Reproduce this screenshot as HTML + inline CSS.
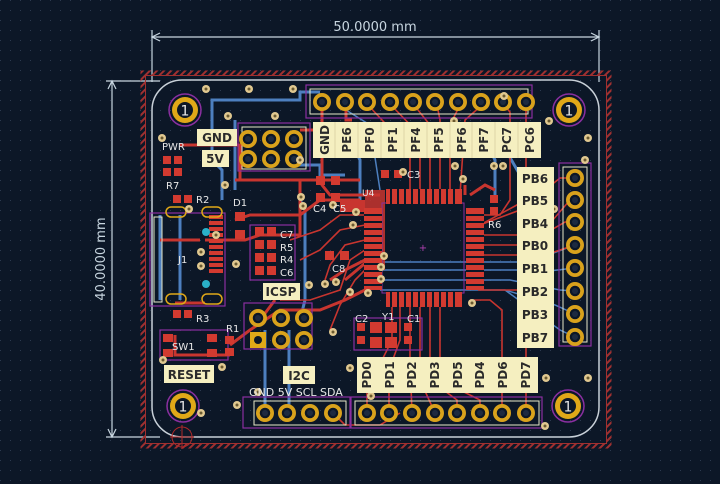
<!DOCTYPE html>
<html><head><meta charset="utf-8"><style>
html,body{margin:0;padding:0;background:#0c1727;}
svg{display:block}
text{font-family:"DejaVu Sans","Liberation Sans",sans-serif;}
</style></head><body>
<svg width="720" height="484" viewBox="0 0 720 484" xmlns="http://www.w3.org/2000/svg">
<defs>
<pattern id="dots" width="10" height="10" patternUnits="userSpaceOnUse"><rect x="0" y="0" width="1" height="1" fill="#2c3a50"/></pattern>
<pattern id="hatch" width="5" height="5" patternUnits="userSpaceOnUse" patternTransform="rotate(45)"><rect width="2" height="5" fill="#a03030"/></pattern>
<g id="pin"><circle r="9" fill="#d9a21c"/><circle r="6" fill="#0c1727" stroke="#d9a21c" stroke-width="1.5"/><circle r="3" fill="#1d2a40"/></g>
<g id="mh"><circle r="16" fill="none" stroke="#8a2fa0" stroke-width="1.5"/><circle r="13" fill="#e0a818"/><circle r="8" fill="#0c1727"/><text x="0" y="5.5" font-size="14" fill="#e8e8e8" text-anchor="middle">1</text></g>
<g id="via"><circle r="4" fill="#e0c890"/><circle r="1.5" fill="#6a5a30"/></g>
</defs>
<rect width="720" height="484" fill="#0c1727"/>
<rect width="720" height="484" fill="url(#dots)"/>

<g stroke="#c8d6e0" stroke-width="1.2" fill="none">
<line x1="152" y1="30" x2="152" y2="82"/><line x1="599" y1="30" x2="599" y2="82"/>
<line x1="152" y1="37" x2="599" y2="37"/>
<polyline points="160,33 152,37 160,41"/><polyline points="591,33 599,37 591,41"/>
<line x1="106" y1="81" x2="160" y2="81"/><line x1="106" y1="437" x2="160" y2="437"/>
<line x1="112" y1="81" x2="112" y2="437"/>
<polyline points="108,89 112,81 116,89"/><polyline points="108,429 112,437 116,429"/>
</g>
<text x="375" y="31" font-size="13" fill="#c8d6e0" text-anchor="middle">50.0000 mm</text>
<text transform="translate(105,259) rotate(-90)" font-size="13" fill="#c8d6e0" text-anchor="middle">40.0000 mm</text>

<rect x="143" y="73" width="466" height="373" fill="none" stroke="url(#hatch)" stroke-width="5"/>
<rect x="145.5" y="75.5" width="461" height="368" fill="none" stroke="#a03030" stroke-width="1"/>
<rect x="152" y="80" width="447" height="357" rx="30" fill="none" stroke="#c8d0d8" stroke-width="1.5"/>
<circle cx="182" cy="437" r="10" fill="none" stroke="#b02828" stroke-width="1"/>
<line x1="170" y1="437" x2="194" y2="437" stroke="#b02828"/><line x1="182" y1="425" x2="182" y2="449" stroke="#b02828"/>

<g stroke="#4d7fbf" stroke-width="3" fill="none">
<polyline points="212,110 212,100 300,100 300,92 320,92"/>
<polyline points="212,110 212,160 222,170 222,200"/>
<polyline points="160,215 160,300"/>
<polyline points="180,215 180,300"/>
<polyline points="265,330 265,360 265,413"/>
<polyline points="289,330 289,413"/>
<polyline points="440,150 490,150 495,160 495,195"/>
<polyline points="290,165 320,165 320,175 345,175"/>
<polyline points="500,140 520,175"/>
<polyline points="300,200 305,210 305,300 300,320"/>
<polyline points="345,130 360,160 360,200"/>
<polyline points="235,120 235,190"/>
</g>
<g stroke="#4d7fbf" stroke-width="1.5" fill="none">
<polyline points="380,262 520,262 540,258 575,245"/>
<polyline points="380,270 520,270 540,272 575,268"/>
<polyline points="380,280 510,280 560,290 575,291"/>
<polyline points="380,290 505,290 555,305 575,314"/>
<polyline points="505,290 560,330 575,337"/>
<polyline points="346,110 370,125 380,190"/>
</g>

<g stroke="#c8352f" stroke-width="3" fill="none">
<polyline points="322,105 322,185 330,195 380,195"/>
<polyline points="346,105 346,120 352,120"/>
<polyline points="320,140 320,130 300,130"/>
<polyline points="235,180 300,180 300,235 260,235 245,240 205,240"/>
<polyline points="160,240 200,240"/>
<polyline points="180,145 240,145 240,180"/>
<polyline points="300,180 360,180"/>
<polyline points="360,200 320,200 300,215 250,215 235,220"/>
<polyline points="175,303 205,303"/>
<polyline points="175,335 175,355 230,355"/>
<polyline points="230,345 250,330 280,310 320,310 345,300 365,290"/>
<polyline points="275,300 260,320"/>
<polyline points="345,280 375,255"/>
<polyline points="365,260 345,270 330,280"/>
<polyline points="465,185 465,195"/>
<polyline points="470,195 485,185 495,190"/>
</g>
<g stroke="#c8352f" stroke-width="1.6" fill="none">
<polyline points="368,105 410,150 410,195"/><polyline points="391,105 420,135 420,195"/>
<polyline points="414,105 430,125 430,195"/><polyline points="437,105 440,120 440,195"/>
<polyline points="460,105 450,125 450,195"/><polyline points="482,105 465,120 460,195"/>
<polyline points="504,105 510,112 510,200 500,215 480,215"/>
<polyline points="526,105 526,200 480,225"/>
<polyline points="480,235 540,235 570,200 575,200"/>
<polyline points="480,245 525,245 565,222 575,222"/>
<polyline points="480,255 545,255 575,245"/>
<polyline points="480,225 520,210 560,178 575,178"/>
<polyline points="392,307 392,340 367,390 367,413"/>
<polyline points="400,307 400,340 389,370 389,413"/>
<polyline points="410,307 410,360 412,413"/>
<polyline points="420,307 420,380 435,413"/>
<polyline points="430,307 430,380 457,400 457,413"/>
<polyline points="440,307 440,380 480,400 480,413"/>
<polyline points="470,300 490,300 502,310 502,413"/>
<polyline points="478,290 520,290 526,300 526,413"/>
<polyline points="333,413 345,425 380,425 400,413"/>
<polyline points="365,215 340,215 320,230 290,240"/>
<polyline points="365,225 340,230 320,250 300,260"/>
<polyline points="365,240 345,245 330,265 325,280"/>
<polyline points="365,250 350,260 340,290 310,300 280,300"/>
<polyline points="365,270 355,280 340,305 330,330"/>
</g>
<path d="M365 190 L385 190 L385 270 L365 270 Z" fill="#c8352f" opacity="0.85"/>
<path d="M340 200 L365 200 L365 212 L340 212 Z" fill="#c8352f"/>

<rect x="382" y="203" width="82" height="90" fill="none" stroke="#8a2fa0" stroke-width="1"/>
<g fill="#d23a30">
<rect x="386" y="189" width="76" height="15"/>
<rect x="386" y="292" width="76" height="15"/>
<rect x="364" y="208" width="18" height="82"/>
<rect x="466" y="208" width="18" height="82"/>
</g>
<g stroke="#0c1727" stroke-width="2">
<path d="M391 189v15M398 189v15M405 189v15M412 189v15M419 189v15M426 189v15M433 189v15M440 189v15M447 189v15M454 189v15"/>
<path d="M391 292v15M398 292v15M405 292v15M412 292v15M419 292v15M426 292v15M433 292v15M440 292v15M447 292v15M454 292v15"/>
<path d="M364 215h18M364 222h18M364 229h18M364 236h18M364 243h18M364 250h18M364 257h18M364 264h18M364 271h18M364 278h18M364 285h18"/>
<path d="M466 215h18M466 222h18M466 229h18M466 236h18M466 243h18M466 250h18M466 257h18M466 264h18M466 271h18M466 278h18M466 285h18"/>
</g>
<text x="423" y="251" font-size="10" fill="#b040b0" text-anchor="middle">+</text>

<g fill="none" stroke="#8a2fa0" stroke-width="1.2">
<rect x="306" y="85" width="226" height="33"/>
<rect x="238" y="123" width="72" height="48"/>
<rect x="559" y="163" width="32" height="183"/>
<rect x="351" y="397" width="191" height="31"/>
<rect x="243" y="397" width="107" height="31"/>
<rect x="244" y="303" width="68" height="46"/>
<rect x="150" y="213" width="75" height="93"/>
<rect x="160" y="330" width="68" height="30"/>
<rect x="250" y="225" width="45" height="55"/>
<rect x="354" y="318" width="68" height="32"/>
</g>
<g fill="none" stroke="#e8e8c8" stroke-width="1">
<rect x="310" y="89" width="218" height="25"/>
<rect x="242" y="127" width="64" height="42"/>
<rect x="563" y="167" width="24" height="175"/>
<rect x="355" y="401" width="184" height="24"/>
<rect x="254" y="401" width="92" height="24"/>
<rect x="154" y="217" width="8" height="85"/>
</g>

<g>
<use href="#pin" x="322" y="102"/><use href="#pin" x="345" y="102"/><use href="#pin" x="367" y="102"/><use href="#pin" x="390" y="102"/><use href="#pin" x="413" y="102"/><use href="#pin" x="435" y="102"/><use href="#pin" x="458" y="102"/><use href="#pin" x="481" y="102"/><use href="#pin" x="503" y="102"/><use href="#pin" x="526" y="102"/>
<use href="#pin" x="248" y="139"/><use href="#pin" x="271" y="139"/><use href="#pin" x="294" y="139"/>
<use href="#pin" x="248" y="159"/><use href="#pin" x="271" y="159"/><use href="#pin" x="294" y="159"/>
<use href="#pin" x="575" y="178"/><use href="#pin" x="575" y="200"/><use href="#pin" x="575" y="222"/><use href="#pin" x="575" y="245"/><use href="#pin" x="575" y="268"/><use href="#pin" x="575" y="291"/><use href="#pin" x="575" y="314"/><use href="#pin" x="575" y="337"/>
<use href="#pin" x="367" y="413"/><use href="#pin" x="389" y="413"/><use href="#pin" x="412" y="413"/><use href="#pin" x="435" y="413"/><use href="#pin" x="457" y="413"/><use href="#pin" x="480" y="413"/><use href="#pin" x="502" y="413"/><use href="#pin" x="526" y="413"/>
<use href="#pin" x="265" y="413"/><use href="#pin" x="287" y="413"/><use href="#pin" x="310" y="413"/><use href="#pin" x="333" y="413"/>
<use href="#pin" x="258" y="318"/><use href="#pin" x="281" y="318"/><use href="#pin" x="304" y="318"/>
<use href="#pin" x="281" y="340"/><use href="#pin" x="304" y="340"/>
</g>
<rect x="250" y="332" width="16" height="16" fill="#e0a818"/><circle cx="258" cy="340" r="4" fill="#0c1727"/>
<use href="#mh" x="185" y="110"/><use href="#mh" x="569" y="110"/><use href="#mh" x="183" y="406"/><use href="#mh" x="568" y="406"/>

<g fill="#d23a30">
<rect x="163" y="156" width="8" height="8"/><rect x="174" y="156" width="8" height="8"/>
<rect x="163" y="168" width="8" height="8"/><rect x="174" y="168" width="8" height="8"/>
<rect x="173" y="195" width="8" height="8"/><rect x="184" y="195" width="8" height="8"/>
<rect x="173" y="310" width="8" height="8"/><rect x="184" y="310" width="8" height="8"/>
<rect x="235" y="212" width="10" height="9"/><rect x="235" y="230" width="10" height="9"/>
<rect x="255" y="227" width="9" height="9"/><rect x="267" y="227" width="9" height="9"/>
<rect x="255" y="240" width="9" height="9"/><rect x="267" y="240" width="9" height="9"/>
<rect x="255" y="253" width="9" height="9"/><rect x="267" y="253" width="9" height="9"/>
<rect x="255" y="266" width="9" height="9"/><rect x="267" y="266" width="9" height="9"/>
<rect x="316" y="176" width="9" height="9"/><rect x="316" y="193" width="9" height="9"/>
<rect x="331" y="176" width="9" height="9"/><rect x="331" y="193" width="9" height="9"/>
<rect x="381" y="170" width="8" height="8"/><rect x="394" y="170" width="8" height="8"/>
<rect x="325" y="251" width="9" height="9"/><rect x="340" y="251" width="9" height="9"/>
<rect x="490" y="195" width="8" height="8"/><rect x="490" y="207" width="8" height="8"/>
<rect x="357" y="323" width="8" height="8"/><rect x="357" y="336" width="8" height="8"/>
<rect x="370" y="322" width="12" height="11"/><rect x="385" y="322" width="12" height="11"/>
<rect x="370" y="337" width="12" height="11"/><rect x="385" y="337" width="12" height="11"/>
<rect x="404" y="323" width="8" height="8"/><rect x="404" y="336" width="8" height="8"/>
<rect x="163" y="334" width="10" height="8"/><rect x="207" y="334" width="10" height="8"/>
<rect x="163" y="349" width="10" height="8"/><rect x="207" y="349" width="10" height="8"/>
<rect x="225" y="336" width="9" height="8"/><rect x="225" y="348" width="9" height="8"/>
<rect x="209" y="215" width="14" height="4"/><rect x="209" y="221" width="14" height="4"/><rect x="209" y="227" width="14" height="4"/><rect x="209" y="233" width="14" height="4"/><rect x="209" y="239" width="14" height="4"/><rect x="209" y="245" width="14" height="4"/><rect x="209" y="251" width="14" height="4"/><rect x="209" y="257" width="14" height="4"/><rect x="209" y="263" width="14" height="4"/><rect x="209" y="269" width="14" height="4"/>
</g>
<g fill="none" stroke="#e0a818" stroke-width="1.5">
<rect x="166" y="207" width="20" height="10" rx="5"/><rect x="202" y="207" width="20" height="10" rx="5"/>
<rect x="166" y="294" width="20" height="10" rx="5"/><rect x="202" y="294" width="20" height="10" rx="5"/>
</g>
<circle cx="206" cy="232" r="4" fill="#2ab0c8"/><circle cx="206" cy="284" r="4" fill="#2ab0c8"/>

<g>
<use href="#via" x="206" y="89"/><use href="#via" x="249" y="89"/><use href="#via" x="293" y="89"/><use href="#via" x="228" y="116"/><use href="#via" x="275" y="116"/><use href="#via" x="162" y="138"/><use href="#via" x="225" y="185"/><use href="#via" x="189" y="209"/><use href="#via" x="216" y="235"/><use href="#via" x="201" y="252"/><use href="#via" x="201" y="266"/><use href="#via" x="236" y="264"/><use href="#via" x="300" y="160"/><use href="#via" x="301" y="197"/><use href="#via" x="303" y="206"/><use href="#via" x="356" y="212"/><use href="#via" x="309" y="285"/><use href="#via" x="384" y="256"/><use href="#via" x="381" y="267"/><use href="#via" x="381" y="279"/><use href="#via" x="368" y="293"/><use href="#via" x="472" y="303"/><use href="#via" x="403" y="172"/><use href="#via" x="463" y="179"/><use href="#via" x="333" y="205"/><use href="#via" x="353" y="225"/><use href="#via" x="336" y="282"/><use href="#via" x="325" y="284"/><use href="#via" x="350" y="292"/><use href="#via" x="333" y="332"/><use href="#via" x="289" y="291"/><use href="#via" x="222" y="367"/><use href="#via" x="163" y="360"/><use href="#via" x="201" y="413"/><use href="#via" x="258" y="392"/><use href="#via" x="237" y="405"/><use href="#via" x="350" y="368"/><use href="#via" x="371" y="396"/><use href="#via" x="546" y="378"/><use href="#via" x="588" y="378"/><use href="#via" x="545" y="426"/><use href="#via" x="504" y="96"/><use href="#via" x="549" y="121"/><use href="#via" x="454" y="121"/><use href="#via" x="503" y="166"/><use href="#via" x="588" y="138"/><use href="#via" x="455" y="166"/><use href="#via" x="494" y="166"/><use href="#via" x="554" y="209"/><use href="#via" x="585" y="160"/>
</g>

<g font-family="'DejaVu Sans Mono','Liberation Mono',monospace" font-size="12" font-weight="bold" fill="#2a2a2a">
<rect x="313" y="122" width="228" height="36" fill="#f5efc0"/>
<g stroke="#d8d0a0" stroke-width="0.8"><line x1="335" y1="122" x2="335" y2="158"/><line x1="358" y1="122" x2="358" y2="158"/><line x1="381" y1="122" x2="381" y2="158"/><line x1="404" y1="122" x2="404" y2="158"/><line x1="427" y1="122" x2="427" y2="158"/><line x1="450" y1="122" x2="450" y2="158"/><line x1="472" y1="122" x2="472" y2="158"/><line x1="495" y1="122" x2="495" y2="158"/><line x1="518" y1="122" x2="518" y2="158"/></g>
<text transform="translate(329,140) rotate(-90)" text-anchor="middle">GND</text>
<text transform="translate(351,140) rotate(-90)" text-anchor="middle">PE6</text>
<text transform="translate(374,140) rotate(-90)" text-anchor="middle">PF0</text>
<text transform="translate(397,140) rotate(-90)" text-anchor="middle">PF1</text>
<text transform="translate(420,140) rotate(-90)" text-anchor="middle">PF4</text>
<text transform="translate(443,140) rotate(-90)" text-anchor="middle">PF5</text>
<text transform="translate(466,140) rotate(-90)" text-anchor="middle">PF6</text>
<text transform="translate(488,140) rotate(-90)" text-anchor="middle">PF7</text>
<text transform="translate(511,140) rotate(-90)" text-anchor="middle">PC7</text>
<text transform="translate(534,140) rotate(-90)" text-anchor="middle">PC6</text>

<rect x="517" y="167" width="37" height="181" fill="#f5efc0"/>
<text x="535" y="183" text-anchor="middle">PB6</text><text x="535" y="205" text-anchor="middle">PB5</text><text x="535" y="228" text-anchor="middle">PB4</text><text x="535" y="250" text-anchor="middle">PB0</text><text x="535" y="273" text-anchor="middle">PB1</text><text x="535" y="296" text-anchor="middle">PB2</text><text x="535" y="319" text-anchor="middle">PB3</text><text x="535" y="342" text-anchor="middle">PB7</text>

<rect x="357" y="357" width="181" height="36" fill="#f5efc0"/>
<text transform="translate(371,375) rotate(-90)" text-anchor="middle">PD0</text>
<text transform="translate(394,375) rotate(-90)" text-anchor="middle">PD1</text>
<text transform="translate(416,375) rotate(-90)" text-anchor="middle">PD2</text>
<text transform="translate(439,375) rotate(-90)" text-anchor="middle">PD3</text>
<text transform="translate(462,375) rotate(-90)" text-anchor="middle">PD5</text>
<text transform="translate(484,375) rotate(-90)" text-anchor="middle">PD4</text>
<text transform="translate(507,375) rotate(-90)" text-anchor="middle">PD6</text>
<text transform="translate(530,375) rotate(-90)" text-anchor="middle">PD7</text>

<rect x="197" y="129" width="40" height="17" fill="#f5efc0"/><text x="217" y="142" text-anchor="middle">GND</text>
<rect x="202" y="150" width="27" height="17" fill="#f5efc0"/><text x="215" y="163" text-anchor="middle">5V</text>
<rect x="263" y="283" width="37" height="17" fill="#f5efc0"/><text x="281" y="296" text-anchor="middle">ICSP</text>
<rect x="164" y="365" width="50" height="18" fill="#f5efc0"/><text x="189" y="379" text-anchor="middle">RESET</text>
<rect x="283" y="366" width="32" height="18" fill="#f5efc0"/><text x="299" y="380" text-anchor="middle">I2C</text>
</g>
<g font-size="10" fill="#e8e8e8" font-family="'DejaVu Sans','Liberation Sans',sans-serif">
<text x="162" y="150">PWR</text><text x="166" y="189">R7</text><text x="196" y="203">R2</text><text x="178" y="263">J1</text>
<text x="233" y="206">D1</text><text x="280" y="238">C7</text><text x="280" y="251">R5</text><text x="280" y="263">R4</text><text x="280" y="276">C6</text>
<text x="313" y="212">C4</text><text x="333" y="212">C5</text><text x="407" y="178">C3</text><text x="332" y="272">C8</text><text x="488" y="228">R6</text>
<text x="355" y="322">C2</text><text x="382" y="320">Y1</text><text x="407" y="322">C1</text>
<text x="196" y="322">R3</text><text x="226" y="332">R1</text><text x="172" y="350">SW1</text>
<text x="249" y="396" font-size="11">GND 5V SCL SDA</text>
<text x="362" y="196" font-size="9">U4</text>
</g>
</svg>
</body></html>
